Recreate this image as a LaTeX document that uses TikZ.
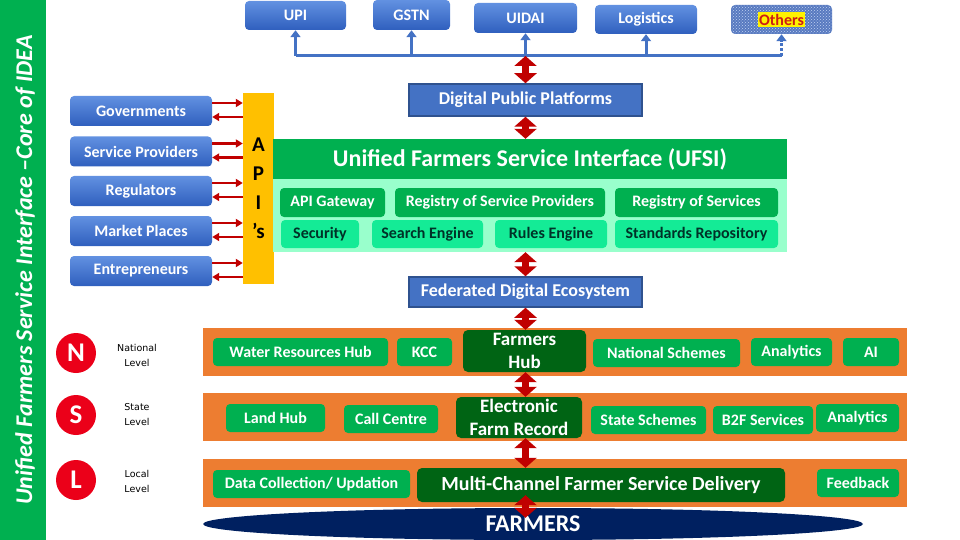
\documentclass[tikz,border=0pt]{standalone}
\usepackage{fontspec}
\setmainfont{Carlito}
\newfontfamily\levelfont{DejaVu Sans}
\usetikzlibrary{shapes.geometric,arrows.meta,patterns}

\definecolor{sidegreen}{RGB}{0,176,80}
\definecolor{blueT}{RGB}{98,145,225}
\definecolor{blueB}{RGB}{47,95,190}
\definecolor{platblue}{RGB}{68,114,196}
\definecolor{platedge}{RGB}{47,82,143}
\definecolor{busblue}{RGB}{68,114,196}
\definecolor{othersblue}{RGB}{88,122,192}
\definecolor{othersred}{RGB}{205,30,20}
\definecolor{boxgreen}{RGB}{0,176,80}
\definecolor{darkgreen}{RGB}{0,100,20}
\definecolor{panelmint}{RGB}{153,255,204}
\definecolor{mintfill}{RGB}{20,235,150}
\definecolor{minttext}{RGB}{0,50,40}
\definecolor{bandorange}{RGB}{237,125,49}
\definecolor{apiyellow}{RGB}{255,192,0}
\definecolor{darkred}{RGB}{192,0,0}
\definecolor{levelred}{RGB}{235,0,25}
\definecolor{navy}{RGB}{0,32,96}

\begin{document}
\begin{tikzpicture}[x=1pt,y=-1pt,
	bluebox/.style={rounded corners=4pt,top color=blueT,bottom color=blueB,text=white,inner sep=0pt,font=\fontsize{16}{19}\selectfont\bfseries},
	flatbox/.style={fill=platblue,draw=platedge,line width=1.5pt,text=white,inner sep=0pt,font=\fontsize{18}{21}\selectfont\bfseries},
	greenbox/.style={rounded corners=4pt,fill=boxgreen,text=white,inner sep=0pt,font=\fontsize{16}{19}\selectfont\bfseries},
	mintbox/.style={rounded corners=4pt,fill=mintfill,text=minttext,inner sep=0pt,font=\fontsize{16}{19}\selectfont\bfseries},
	darkbox/.style={rounded corners=5pt,fill=darkgreen,text=white,inner sep=0pt,align=center,font=\fontsize{19}{23}\selectfont\bfseries},
	band/.style={fill=bandorange,inner sep=0pt,minimum width=704pt,minimum height=48pt},
	levelcircle/.style={circle,fill=levelred,text=white,minimum size=40pt,inner sep=0pt,font=\fontsize{27}{27}\selectfont\bfseries},
	leveltext/.style={align=center,font=\levelfont\fontsize{9.5}{15}\selectfont},
	busline/.style={busblue,line width=3pt},
	busarrow/.style={busblue,line width=3pt,-{Triangle[width=10pt,length=7pt]}},
	dblarrow/.style={darkred,line width=7pt,{Triangle[width=22pt,length=10pt]}-{Triangle[width=22pt,length=10pt]}},
	apiarrow/.style={darkred,line width=2.5pt,-{Triangle[width=8pt,length=7pt]}}]
	\useasboundingbox (0,0) rectangle (960,540);
	\fill[sidegreen] (0,0) rectangle (46,540);
	\node[rotate=90,text=white,font=\fontsize{24}{26}\selectfont\bfseries\itshape] (sidetitle) at (25,270) {Unified Farmers Service Interface –Core of IDEA};

	\node[bluebox,minimum width=101pt,minimum height=29pt] (upi) at (295.5,15.5) {UPI};
	\node[bluebox,minimum width=77pt,minimum height=30pt] (gstn) at (411.5,15) {GSTN};
	\node[bluebox,minimum width=103pt,minimum height=30pt] (uidai) at (525.5,18) {UIDAI};
	\node[bluebox,minimum width=102pt,minimum height=29pt] (logistics) at (646,19.5) {Logistics};
	\node[rounded corners=4pt,fill=othersblue,postaction={pattern=crosshatch dots,pattern color=blueT!40!white},minimum width=101pt,minimum height=29pt] (others) at (781.5,19.5) {};
	\node[fill=yellow,text=othersred,inner sep=1.5pt,font=\fontsize{16}{19}\selectfont\bfseries] (otherslabel) at (others) {Others};
	\coordinate (busL) at (295.5,56);
	\coordinate (busR) at (781.5,56);
	\draw[busline] (busL) -- (busR);
	\draw[busarrow] (busL) -- (upi.south);
	\draw[busarrow] (gstn.south |- busL) -- (gstn.south);
	\draw[busarrow] (uidai.south |- busL) -- (uidai.south);
	\draw[busarrow] (logistics.south |- busL) -- (logistics.south);
	\draw[busarrow,dash pattern=on 3pt off 2pt] (busR) -- (others.south);

	\node[flatbox,minimum width=233pt,minimum height=32pt] (dpp) at (525.5,100) {Digital Public Platforms};

	\node[bluebox,minimum width=142pt,minimum height=30pt] (gov) at (141,111) {Governments};
	\node[bluebox,minimum width=142pt,minimum height=30pt] (sp) at (141,151.5) {Service Providers};
	\node[bluebox,minimum width=142pt,minimum height=30pt] (reg) at (141,191) {Regulators};
	\node[bluebox,minimum width=142pt,minimum height=30pt] (mkt) at (141,231) {Market Places};
	\node[bluebox,minimum width=142pt,minimum height=30pt] (ent) at (141,271) {Entrepreneurs};
	\node[fill=apiyellow,minimum width=31pt,minimum height=191pt,inner sep=0pt,align=center,font=\fontsize{21}{29}\selectfont\bfseries] (apis) at (258.5,188.5) {A\\P\\I\\’s};

	\node[fill=sidegreen,text=white,minimum width=514pt,minimum height=40pt,inner sep=0pt,font=\fontsize{24}{28}\selectfont\bfseries] (ufsi) at (530,159) {Unified Farmers Service Interface (UFSI)};
	\node[fill=panelmint,minimum width=514pt,minimum height=73pt,inner sep=0pt] (panel) at (530,215.5) {};
	\node[greenbox,minimum width=105pt,minimum height=29pt] (apigw) at (332.5,202.5) {API Gateway};
	\node[greenbox,minimum width=210pt,minimum height=29pt] (regsp) at (500,202.5) {Registry of Service Providers};
	\node[greenbox,minimum width=163pt,minimum height=29pt] (regsv) at (696.5,202.5) {Registry of Services};
	\node[mintbox,minimum width=78pt,minimum height=28pt] (security) at (320,234) {Security};
	\node[mintbox,minimum width=111pt,minimum height=28pt] (search) at (427.5,234) {Search Engine};
	\node[mintbox,minimum width=112pt,minimum height=28pt] (rules) at (551,234) {Rules Engine};
	\node[mintbox,minimum width=163pt,minimum height=28pt] (standards) at (696.5,234) {Standards Repository};

	\node[flatbox,minimum width=233pt,minimum height=30pt] (fde) at (525.5,292) {Federated Digital Ecosystem};

	\node[levelcircle] (natl) at (76,353) {N};
	\node[levelcircle] (state) at (76,415) {S};
	\node[levelcircle] (local) at (76,480) {L};
	\node[leveltext] (natltext) at (137,355) {National\\Level};
	\node[leveltext] (statetext) at (137,415) {State\\Level};
	\node[leveltext] (localtext) at (137,481) {Local\\Level};

	\node[band] (bandN) at (555,352) {};
	\node[band] (bandS) at (555,417) {};
	\node[band] (bandL) at (555,483) {};

	\node[greenbox,minimum width=175pt,minimum height=28pt] (water) at (300.5,352) {Water Resources Hub};
	\node[greenbox,minimum width=55pt,minimum height=28pt] (kcc) at (424.5,352) {KCC};
	\node[darkbox,minimum width=123pt,minimum height=42pt] (hub) at (524.5,351) {Farmers\\Hub};
	\node[greenbox,minimum width=147pt,minimum height=28pt] (natsch) at (666.5,353) {National Schemes};
	\node[greenbox,minimum width=81pt,minimum height=28pt] (analyticsN) at (791.5,352) {Analytics};
	\node[greenbox,minimum width=56pt,minimum height=28pt] (ai) at (871,352) {AI};

	\node[greenbox,minimum width=99pt,minimum height=28pt] (land) at (275.5,418) {Land Hub};
	\node[greenbox,minimum width=94pt,minimum height=28pt] (call) at (391,419) {Call Centre};
	\node[darkbox,minimum width=126pt,minimum height=41pt] (erf) at (519,417.5) {Electronic\\Farm Record};
	\node[greenbox,minimum width=115pt,minimum height=28pt] (statesch) at (648.5,420) {State Schemes};
	\node[greenbox,minimum width=100pt,minimum height=28pt] (b2f) at (763,420) {B2F Services};
	\node[greenbox,minimum width=83pt,minimum height=28pt] (analyticsS) at (857.5,418) {Analytics};

	\node[greenbox,minimum width=197pt,minimum height=28pt] (datacol) at (311.5,484) {Data Collection/ Updation};
	\node[darkbox,minimum width=368pt,minimum height=34pt,font=\fontsize{20}{24}\selectfont\bfseries] (multi) at (601,485) {Multi-Channel Farmer Service Delivery};
	\node[greenbox,minimum width=82pt,minimum height=28pt] (feedback) at (858,483) {Feedback};

	\node[ellipse,fill=navy,text=white,minimum width=660pt,minimum height=32pt,inner sep=0pt,font=\fontsize{24}{24}\selectfont\bfseries] (farmers) at (533,524) {FARMERS};

	\draw[apiarrow] ([yshift=8pt]gov.east) -- ([yshift=8pt]gov.east -| apis.west);
	\draw[apiarrow] ([yshift=-6pt]gov.east -| apis.west) -- ([yshift=-6pt]gov.east);
	\draw[apiarrow] ([yshift=8pt]sp.east) -- ([yshift=8pt]sp.east -| apis.west);
	\draw[apiarrow] ([yshift=-6pt]sp.east -| apis.west) -- ([yshift=-6pt]sp.east);
	\draw[apiarrow] ([yshift=8pt]reg.east) -- ([yshift=8pt]reg.east -| apis.west);
	\draw[apiarrow] ([yshift=-6pt]reg.east -| apis.west) -- ([yshift=-6pt]reg.east);
	\draw[apiarrow] ([yshift=8pt]mkt.east) -- ([yshift=8pt]mkt.east -| apis.west);
	\draw[apiarrow] ([yshift=-6pt]mkt.east -| apis.west) -- ([yshift=-6pt]mkt.east);
	\draw[apiarrow] ([yshift=8pt]ent.east) -- ([yshift=8pt]ent.east -| apis.west);
	\draw[apiarrow] ([yshift=-6pt]ent.east -| apis.west) -- ([yshift=-6pt]ent.east);

	\draw[dblarrow] (dpp.north |- busL) -- (dpp.north);
	\draw[dblarrow] (dpp.south) -- (dpp.south |- ufsi.north);
	\draw[dblarrow] (fde.north |- panel.south) -- (fde.north);
	\draw[dblarrow] (fde.south) -- (fde.south |- hub.north);
	\draw[dblarrow] (fde.south |- hub.south) -- (fde.south |- erf.north);
	\draw[dblarrow] (fde.south |- erf.south) -- (fde.south |- multi.north);
	\draw[dblarrow] ([yshift=7pt]fde.south |- multi.south) -- ([yshift=-10pt]fde.south |- farmers.north);
\end{tikzpicture}
\end{document}
